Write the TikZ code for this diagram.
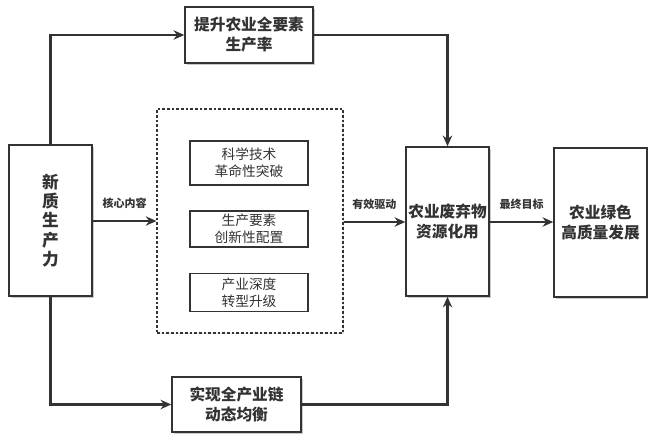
\documentclass[tikz,border=0pt]{standalone}
\usepackage{fontspec}
\setmainfont{Noto Sans CJK SC}
\usetikzlibrary{arrows.meta,shadows}
\definecolor{ink}{HTML}{333333}
\tikzset{
  box/.style={draw=ink, line width=1.1pt, fill=white, align=center, inner sep=0pt,
    drop shadow={shadow xshift=1.2pt, shadow yshift=-1.2pt, fill=black!35, opacity=0.6},
    font=\fontsize{11.75pt}{15pt}\selectfont\bfseries, text=ink},
  inbox/.style={draw=ink, line width=1pt, fill=white, align=center, inner sep=0pt,
    font=\fontsize{10.3pt}{13pt}\selectfont, text=ink},
  dbox/.style={draw=ink, line width=0.8pt, dash pattern=on 2pt off 1.5pt, inner sep=0pt,
    drop shadow={shadow xshift=1pt, shadow yshift=-1pt, fill=black!25, opacity=0.5}, fill=white},
  arr/.style={draw=ink, line width=1.6pt, -{Stealth[length=8pt,width=7pt]}},
  lbl/.style={font=\fontsize{8.25pt}{10pt}\selectfont\bfseries, text=ink, inner sep=1pt}
}
\begin{document}
\begin{tikzpicture}[x=0.75pt,y=-0.75pt]
\useasboundingbox (0,0) rectangle (648,435);
% dashed container
\node[dbox, minimum width=139.5pt, minimum height=168pt] (grp) at (250,221) {};
\node[inbox, minimum width=88.5pt, minimum height=33pt] (b1) at (249,163) {科学技术\\革命性突破};
\node[inbox, minimum width=88.5pt, minimum height=27pt] (b2) at (249,229) {生产要素\\创新性配置};
\node[inbox, minimum width=88.5pt, minimum height=28.5pt] (b3) at (249,292.5) {产业深度\\转型升级};
% main boxes
\node[box, minimum width=62.25pt, minimum height=113.25pt, font=\fontsize{12.5pt}{14.4pt}\selectfont\bfseries] (npf) at (50.5,220.5) {新\\质\\生\\产\\力};
\node[box, minimum width=96pt, minimum height=42pt] (top) at (249,35) {提升农业全要素\\生产率};
\node[box, minimum width=96.75pt, minimum height=41.25pt] (bot) at (236.5,404.5) {实现全产业链\\动态均衡};
\node[box, minimum width=62.25pt, minimum height=111.75pt] (mid) at (447.5,221.5) {农业废弃物\\资源化用};
\node[box, minimum width=69.75pt, minimum height=111.75pt] (goal) at (600.5,222.5) {农业绿色\\高质量发展};
% connectors
\coordinate (tl) at (50.5,35);
\coordinate (tr) at (447.5,35);
\coordinate (bl) at (50.5,404.5);
\coordinate (br) at (447.5,404.5);
\draw[arr] (npf.north) -- (tl) -- (top.west);
\draw[arr] (top.east) -- (tr) -- (mid.north);
\draw[arr] (npf.south) -- (bl) -- (bot.west);
\draw[arr] (bot.east) -- (br) -- (mid.south);
\draw[arr] (npf.east |- 0,221) -- node[lbl, above=7.5pt] {核心内容} (grp.west |- 0,221);
\draw[arr] (grp.east |- 0,222) -- node[lbl, above=7.5pt] {有效驱动} (mid.west |- 0,222);
\draw[arr] (mid.east |- 0,222) -- node[lbl, above=7.5pt] {最终目标} (goal.west |- 0,222);
\end{tikzpicture}
\end{document}
